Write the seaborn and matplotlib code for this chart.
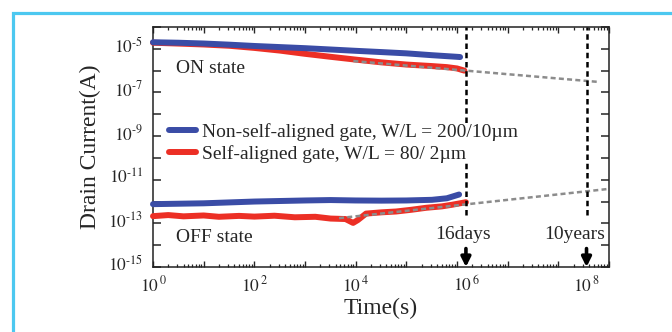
import matplotlib
matplotlib.use('Agg')
import pandas as pd
import matplotlib.pyplot as plt
import matplotlib.transforms as mtransforms
from matplotlib.patches import Rectangle
import seaborn as sns

# values (time in s, drain current in A)
on_blue_t = [1, 3.2, 10, 32, 100, 320, 1e3, 3.2e3, 1e4, 3.2e4, 1e5, 3.2e5, 1e6, 1.15e6]
on_blue_i = [2.0e-5, 1.9e-5, 1.75e-5, 1.55e-5, 1.35e-5, 1.2e-5, 1.07e-5, 9.3e-6, 8.1e-6,
             7.1e-6, 6.2e-6, 5.1e-6, 4.3e-6, 4.2e-6]

on_red_t = [1, 3.2, 10, 32, 100, 320, 1e3, 3.2e3, 1e4, 3.2e4, 1e5, 3.2e5, 6.3e5, 1e6, 1.4e6]
on_red_i = [1.9e-5, 1.74e-5, 1.58e-5, 1.38e-5, 1.1e-5, 8.3e-6, 5.9e-6, 4.3e-6, 3.2e-6,
            2.4e-6, 1.9e-6, 1.62e-6, 1.45e-6, 1.26e-6, 1.0e-6]

off_blue_t = [1, 10, 100, 1e3, 3.2e3, 1e4, 3.2e4, 1e5, 3.2e5, 6.3e5, 1.1e6]
off_blue_i = [7.6e-13, 8.3e-13, 1.0e-12, 1.12e-12, 1.17e-12, 1.12e-12, 1.1e-12, 1.12e-12,
              1.2e-12, 1.41e-12, 2.1e-12]

off_red_t = [1, 2, 4, 10, 20, 50, 100, 250, 630, 1.6e3, 3.2e3, 6.3e3, 8.9e3, 1.1e4, 1.6e4,
             3.2e4, 6.3e4, 1.26e5, 2.5e5, 5e5, 7.9e5, 1.5e6]
off_red_i = [2.14e-13, 2.4e-13, 2.1e-13, 2.3e-13, 2.0e-13, 2.2e-13, 2.04e-13, 2.24e-13, 1.9e-13,
             2.0e-13, 1.66e-13, 1.58e-13, 1.05e-13, 1.41e-13, 2.8e-13, 3.2e-13, 3.5e-13,
             4.2e-13, 5.2e-13, 6.0e-13, 7.1e-13, 9.3e-13]

# extrapolation lines
on_fit_t = [9e3, 6.6e8]
on_fit_i = [2.75e-6, 3.0e-7]
off_fit_t = [4.7e3, 8.9e8]
off_fit_i = [1.74e-13, 3.7e-12]

marker_t = [1.5e6, 3.6e8]
marker_names = ['16days', '10years']
marker_text_t = [1.3e6, 2.1e8]

xtick_pos = [1, 1e2, 1e4, 1.5e6, 3.6e8]
xtick_labels = [r'$10^{\,0}$', r'$10^{\,2}$', r'$10^{\,4}$', r'$10^{\,6}$', r'$10^{\,8}$']
ytick_exp = [-15, -13, -11, -9, -7, -5]

blue_label = 'Non-self-aligned gate, W/L = 200/10\u00b5m'
red_label = 'Self-aligned gate, W/L = 80/ 2\u00b5m'

sns.set_theme(style='ticks')
plt.rcParams['font.family'] = ['Liberation Serif', 'DejaVu Serif']
plt.rcParams['mathtext.fontset'] = 'stix'

blue = '#3a4ca6'
red = '#ec2f25'
gray = '#8c8c8c'

fig = plt.figure(figsize=(6.72, 3.32), dpi=100)
ax = fig.add_axes([153 / 672, 65 / 332, 456 / 672, 240 / 332])
ax.set_xscale('log')
ax.set_yscale('log')

line_kw = dict(estimator=None, sort=False, lw=4.3, solid_capstyle='round', clip_on=False)
sns.lineplot(x=on_red_t, y=on_red_i, color=red, ax=ax, label=red_label, zorder=3, **line_kw)
sns.lineplot(x=off_red_t, y=off_red_i, color=red, ax=ax, zorder=3, **line_kw)
sns.lineplot(x=on_blue_t, y=on_blue_i, color=blue, ax=ax, label=blue_label, zorder=5, **line_kw)
sns.lineplot(x=off_blue_t, y=off_blue_i, color=blue, ax=ax, zorder=5, **line_kw)

for ft, fi in [(on_fit_t, on_fit_i), (off_fit_t, off_fit_i)]:
    ax.plot(ft, fi, color=gray, lw=1.8, dashes=(2, 1.3), zorder=4)

for t, tt, name in zip(marker_t, marker_text_t, marker_names):
    ax.vlines(t, 2.4e-13, 1e-4, colors='black', lw=1.8, linestyles=(0, (2.2, 1.5)), zorder=6)
    ax.annotate('', xy=(t, 1e-15), xytext=(t, 7e-15),
                arrowprops=dict(arrowstyle='-|>', lw=2.6, color='black', mutation_scale=14,
                                shrinkA=0, shrinkB=0), zorder=7, annotation_clip=False)
    ax.text(tt, 3.2e-14, name, ha='center', va='center', fontsize=14)

ax.text(2.8, 1.2e-6, 'ON state', ha='left', va='center', fontsize=14)
ax.text(2.8, 2.3e-14, 'OFF state', ha='left', va='center', fontsize=14)

ax.set_xlim(1, 1e9)
ax.set_ylim(1e-15, 1e-4)

# axis ticks: decades + minor on x, every decade on y
ax.set_xticks([10.0 ** k for k in range(10)])
ax.xaxis.set_major_formatter(plt.NullFormatter())
ax.xaxis.set_minor_formatter(plt.NullFormatter())
ax.set_yticks([10.0 ** k for k in range(-15, -3)])
ax.set_yticklabels([r'$10^{\text{-}%d}$' % -k if k in ytick_exp else '' for k in range(-15, -3)])
ax.yaxis.set_minor_locator(plt.NullLocator())
ax.tick_params(axis='x', which='major', direction='in', length=4, width=1, top=True, bottom=True)
ax.tick_params(axis='x', which='minor', direction='in', length=2.4, width=0.9, top=True, bottom=True)
ax.tick_params(axis='y', which='major', direction='in', length=6, width=1.1, left=True,
               right=True, labelsize=12.5, pad=7)
up = mtransforms.ScaledTranslation(0, 0.04, fig.dpi_scale_trans)
for lab in ax.get_yticklabels():
    lab.set_transform(lab.get_transform() + up)
for s in ax.spines.values():
    s.set_linewidth(1.1)
    s.set_color('#222222')

xtrans = ax.get_xaxis_transform()
for pos, lab in zip(xtick_pos, xtick_labels):
    ax.text(pos, -0.075, lab, transform=xtrans, ha='center', va='center', fontsize=12.5)

ax.set_xlabel('Time(s)', fontsize=17)
ax.xaxis.set_label_coords(0.5, -0.13)
ax.set_ylabel('Drain Current(A)', fontsize=17)
ax.yaxis.set_label_coords(-0.115, 0.5)

handles, labels = ax.get_legend_handles_labels()
order = [labels.index(blue_label), labels.index(red_label)]
leg = ax.legend([handles[i] for i in order], [labels[i] for i in order], loc='upper left',
                bbox_to_anchor=(0.035, 0.6), frameon=True, fancybox=False, facecolor='white',
                edgecolor='none', framealpha=1, fontsize=14, handlelength=1.4,
                handletextpad=0.3, labelspacing=0.22, borderpad=0, borderaxespad=0)
leg.set_zorder(10)

# light blue frame around the panel (right and bottom edges fall outside)
fig.patches.append(Rectangle((12.5 / 672, -0.5), 2, 1.5 - 12.5 / 332, transform=fig.transFigure,
                             fill=False, edgecolor='#4cc8f0', lw=2.3))

fig.savefig('out.png', dpi=100)
